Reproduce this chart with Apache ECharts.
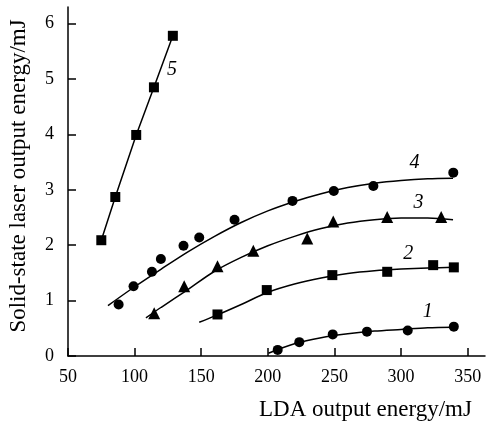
<!DOCTYPE html>
<html>
<head>
<meta charset="utf-8">
<script src="https://cdn.jsdelivr.net/npm/echarts@6/dist/echarts.min.js"></script>
<style>
  html, body { margin: 0; padding: 0; background: #fff; }
  #chart { width: 487px; height: 426px; }
</style>
</head>
<body>
<div id="chart"></div>
<script>
  // measured points (LDA energy, solid-state energy), mJ
  const curve1Points = [[207.4, 0.11], [223.6, 0.25], [248.7, 0.39], [274.4, 0.44], [305, 0.46], [339.6, 0.53]];
  const curve2Points = [[162.2, 0.75], [199.2, 1.19], [248.4, 1.46], [289.6, 1.52], [324.1, 1.64], [339.6, 1.6]];
  const curve3Points = [[114.7, 0.77], [137.2, 1.26], [162.2, 1.62], [189.1, 1.9], [229.6, 2.12], [249.1, 2.43], [289.6, 2.51], [330.1, 2.51]];
  const curve4Points = [[88, 0.93], [99.2, 1.26], [113, 1.52], [119.7, 1.75], [136.7, 1.99], [148.5, 2.14], [175, 2.46], [218.5, 2.8], [249.5, 2.98], [279.2, 3.07], [339.2, 3.31]];
  const curve5Points = [[75, 2.09], [85.5, 2.87], [101.2, 3.99], [114.5, 4.85], [128.7, 5.78]];

  // fitted curves, every ~20 mJ
  const curve1Fit = [[200.4, 0.05], [220, 0.22], [240, 0.33], [260, 0.4], [280, 0.45], [300, 0.48], [320, 0.51], [339.6, 0.52]];
  const curve2Fit = [[148.5, 0.61], [160, 0.72], [180, 0.93], [200, 1.15], [220, 1.3], [240, 1.41], [260, 1.49], [280, 1.54], [300, 1.57], [320, 1.59], [339.6, 1.6]];
  const curve3Fit = [[108.5, 0.69], [120, 0.88], [140, 1.2], [160, 1.53], [180, 1.78], [200, 1.99], [220, 2.16], [240, 2.3], [260, 2.4], [280, 2.46], [300, 2.49], [320, 2.49], [339, 2.46]];
  const curve4Fit = [[80, 0.91], [100, 1.25], [120, 1.57], [140, 1.88], [160, 2.16], [180, 2.41], [200, 2.62], [220, 2.79], [240, 2.93], [260, 3.04], [280, 3.12], [300, 3.17], [320, 3.2], [339, 3.21]];

  const curveNames = ["1", "2", "3", "4", "5"];
  const xTicks = [50, 100, 150, 200, 250, 300, 350];
  const yTicks = [0, 1, 2, 3, 4, 5, 6];

  const chart = echarts.init(document.getElementById("chart"));
  const font = "'Liberation Serif', 'DejaVu Serif', serif";
  const ink = "#000";

  function tag(name, at) {
    return {
      symbol: "circle",
      symbolSize: 1,
      itemStyle: { color: "rgba(0,0,0,0)" },
      label: {
        show: true,
        position: "inside",
        formatter: name,
        color: ink,
        fontFamily: font,
        fontStyle: "italic",
        fontSize: 20,
      },
      data: [{ coord: at }],
    };
  }

  function fitLine(data, name, at) {
    return {
      type: "line",
      data: data,
      smooth: 0.3,
      showSymbol: false,
      silent: true,
      lineStyle: { color: ink, width: 1.5 },
      markPoint: tag(name, at),
    };
  }

  function marks(data, symbol, size) {
    return {
      type: "scatter",
      data: data,
      symbol: symbol,
      symbolSize: size,
      itemStyle: { color: ink, opacity: 1 },
      z: 3,
    };
  }

  chart.setOption({
    animation: false,
    backgroundColor: "#fff",
    grid: { left: 68, right: 2, top: 7, bottom: 70 },
    xAxis: {
      type: "value",
      min: 50,
      max: 363,
      interval: 50,
      axisLine: { lineStyle: { color: ink, width: 1.5 } },
      axisTick: { inside: true, length: 8, customValues: xTicks, lineStyle: { color: ink, width: 1.5 } },
      axisLabel: { customValues: xTicks, color: ink, fontFamily: font, fontSize: 18, margin: 12 },
      splitLine: { show: false },
    },
    yAxis: {
      type: "value",
      min: 0,
      max: 6.3,
      interval: 1,
      axisLine: { lineStyle: { color: ink, width: 1.5 } },
      axisTick: { inside: true, length: 8, customValues: yTicks, lineStyle: { color: ink, width: 1.5 } },
      axisLabel: { customValues: yTicks, color: ink, fontFamily: font, fontSize: 18, margin: 14 },
      splitLine: { show: false },
    },
    graphic: [
      {
        type: "text",
        x: 259,
        y: 410,
        style: { text: "LDA output energy/mJ", fill: ink, font: "23px " + font, textVerticalAlign: "middle" },
      },
      {
        type: "text",
        x: 19,
        y: 176,
        rotation: Math.PI / 2,
        style: { text: "Solid-state laser output energy/mJ", fill: ink, font: "23px " + font, textAlign: "center", textVerticalAlign: "middle" },
      },
    ],
    series: [
      fitLine(curve1Fit, curveNames[0], [320, 0.79]),
      marks(curve1Points, "circle", 10),
      fitLine(curve2Fit, curveNames[1], [305.4, 1.84]),
      marks(curve2Points, "rect", 10),
      fitLine(curve3Fit, curveNames[2], [313, 2.77]),
      marks(curve3Points, "triangle", 12),
      fitLine(curve4Fit, curveNames[3], [310, 3.48]),
      marks(curve4Points, "circle", 10),
      {
        type: "line",
        data: curve5Points,
        symbol: "rect",
        symbolSize: 10,
        itemStyle: { color: ink, opacity: 1 },
        lineStyle: { color: ink, width: 1.5 },
        markPoint: tag(curveNames[4], [128, 5.17]),
      },
    ],
  });

  window.addEventListener("resize", function () {
    chart.resize();
  });
</script>
</body>
</html>
